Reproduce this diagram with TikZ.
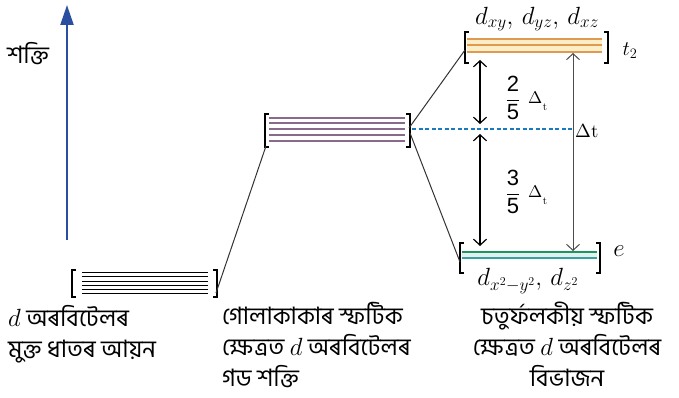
\documentclass[tikz,border=0pt]{standalone}
\usepackage{fontspec}
\usepackage{graphicx}
\newfontfamily\bn[Script=Bengali]{Hind Siliguri}
\newfontfamily\lsans{Liberation Sans}
\usetikzlibrary{arrows.meta}
\definecolor{enblue}{HTML}{2B4FA0}
\definecolor{dashblue}{HTML}{1A7AC0}
\definecolor{sphcol}{HTML}{8A6A8A}
\definecolor{tcol}{HTML}{E09A50}
\definecolor{tfill}{HTML}{FBEEC8}
\definecolor{ecol}{HTML}{3AA0A0}
\tikzset{
  brk/.style={line width=1.4pt,black},
  conn/.style={line width=1pt,black!80},
  lbl/.style={font=\bn\fontsize{24}{31}\selectfont, inner sep=0pt},
  dlt/.style={inner sep=0pt, anchor=west},
  dsub/.style={inner sep=0pt, anchor=north west},
  barbs/.style={{Straight Barb[length=6pt,width=13pt]}-{Straight Barb[length=6pt,width=13pt]}},
}
\begin{document}
\begin{tikzpicture}[x=1pt,y=-1pt]
\useasboundingbox (0,0) rectangle (679,398);
% energy axis
\coordinate (ea) at (67,240);
\coordinate (eb) at (67,5);
\draw[enblue,line width=2.2pt,-{Triangle[length=20pt,width=13pt]}] (ea) -- (eb);
\node[lbl] (en) at (28,54) {শক্তি};

% free ion level
\node[inner sep=0,minimum width=146pt,minimum height=27pt] (free) at (144.5,283.5) {};
\foreach \y in {272,276,281,285,289,293} \draw[line width=0.9pt] (82,\y) -- (208,\y);
\draw[brk] (76,270) -- (72,270) -- (72,297) -- (76,297);
\draw[brk] (213,270) -- (217,270) -- (217,297) -- (213,297);
\coordinate (freeR) at (216,293);

% spherical level
\node[inner sep=0,minimum width=145pt,minimum height=33pt] (sph) at (337.5,130.5) {};
\foreach \y in {118,123,129,135,141} \draw[sphcol,line width=1.1pt] (269,\y) -- (405,\y);
\draw[brk] (269,114) -- (265,114) -- (265,147) -- (269,147);
\draw[brk] (406,114) -- (410,114) -- (410,147) -- (406,147);
\coordinate (sphL) at (266,146);
\coordinate (sphR1) at (409,128);
\coordinate (sphR2) at (410,133);
\coordinate (sphD) at (412,129);

% t2 level
\node[inner sep=0,minimum width=143pt,minimum height=31pt] (t2) at (536.5,47.5) {};
\fill[tfill] (467,39) rectangle (602,52);
\foreach \y in {39,45,52} \draw[tcol,line width=1.1pt] (467,\y) -- (602,\y);
\draw[brk] (469,32) -- (465,32) -- (465,63) -- (469,63);
\draw[brk] (604,32) -- (608,32) -- (608,63) -- (604,63);
\coordinate (t2L) at (465,50);

% e level
\node[inner sep=0,minimum width=140pt,minimum height=30pt] (e) at (530,258) {};
\fill[ecol!15] (462,252) rectangle (597,258);
\draw[ecol!70!green!80!black,line width=1.2pt] (462,252) -- (597,252);
\draw[ecol,line width=1.2pt] (462,258) -- (597,258);
\draw[brk] (464,243) -- (460,243) -- (460,273) -- (464,273);
\draw[brk] (596,243) -- (600,243) -- (600,273) -- (596,273);
\coordinate (eL) at (460,262);

% connectors
\draw[conn] (freeR) -- (sphL);
\draw[conn] (sphR1) -- (t2L);
\draw[conn] (sphR2) -- (eL);
\coordinate (dEnd) at (572,129);
\draw[dashblue,line width=1.5pt,dash pattern=on 4pt off 2.5pt] (sphD) -- (dEnd);

% double arrows
\coordinate (a1) at (480,60);
\coordinate (a2) at (480,124);
\coordinate (a3) at (480,134);
\coordinate (a4) at (480,246);
\draw[line width=1.2pt,barbs] (a1) -- (a2);
\draw[line width=1.2pt,barbs] (a3) -- (a4);
\coordinate (b1) at (573,53);
\coordinate (b2) at (573,251);
\draw[black!70,line width=1pt,barbs] (b1) -- (b2);

% labels
\node[inner sep=0] (f1) at (513,98) {\fontsize{22}{26}\selectfont$\displaystyle\frac{\hbox{\lsans 2}}{\hbox{\lsans 5}}$};
\node[dlt] (f1d) at (528,98) {\scalebox{1.7}{$\Delta$}};
\node[dsub] (f1s) at (f1d.south east) {\scalebox{1.1}{$\mathrm{t}$}};
\node[inner sep=0] (f2) at (513,192) {\fontsize{22}{26}\selectfont$\displaystyle\frac{\hbox{\lsans 3}}{\hbox{\lsans 5}}$};
\node[dlt] (f2d) at (528,192) {\scalebox{1.7}{$\Delta$}};
\node[dsub] (f2s) at (f2d.south east) {\scalebox{1.1}{$\mathrm{t}$}};
\node[inner sep=0,anchor=west] (dt) at (575,131) {\scalebox{1.9}{$\Delta\mathrm{t}$}};
\node[inner sep=0] (dtop) at (537,19) {\fontsize{23}{26}\selectfont$d_{xy},\,d_{yz},\,d_{xz}$};
\node[inner sep=0] (t2lab) at (630,51) {\fontsize{21}{24}\selectfont$t_2$};
\node[inner sep=0] (elab) at (619,251) {\fontsize{23}{26}\selectfont$e$};
\node[inner sep=0] (dbot) at (528,281) {\fontsize{23}{26}\selectfont$d_{x^2-y^2},\,d_{z^2}$};

\node[lbl,anchor=north west,align=left] (t1) at (8,305) {$d$ অৰবিটেলৰ\\মুক্ত ধাতৰ আয়ন};
\node[lbl,anchor=north west,align=left] (t2t) at (222,302) {গোলাকাকাৰ স্ফটিক\\ক্ষেত্ৰত $d$ অৰবিটেলৰ\\গড শক্তি};
\node[lbl,anchor=north,align=center] (t3) at (567,302) {চতুৰ্ফলকীয় স্ফটিক\\ক্ষেত্ৰত $d$ অৰবিটেলৰ\\বিভাজন};
\end{tikzpicture}
\end{document}
